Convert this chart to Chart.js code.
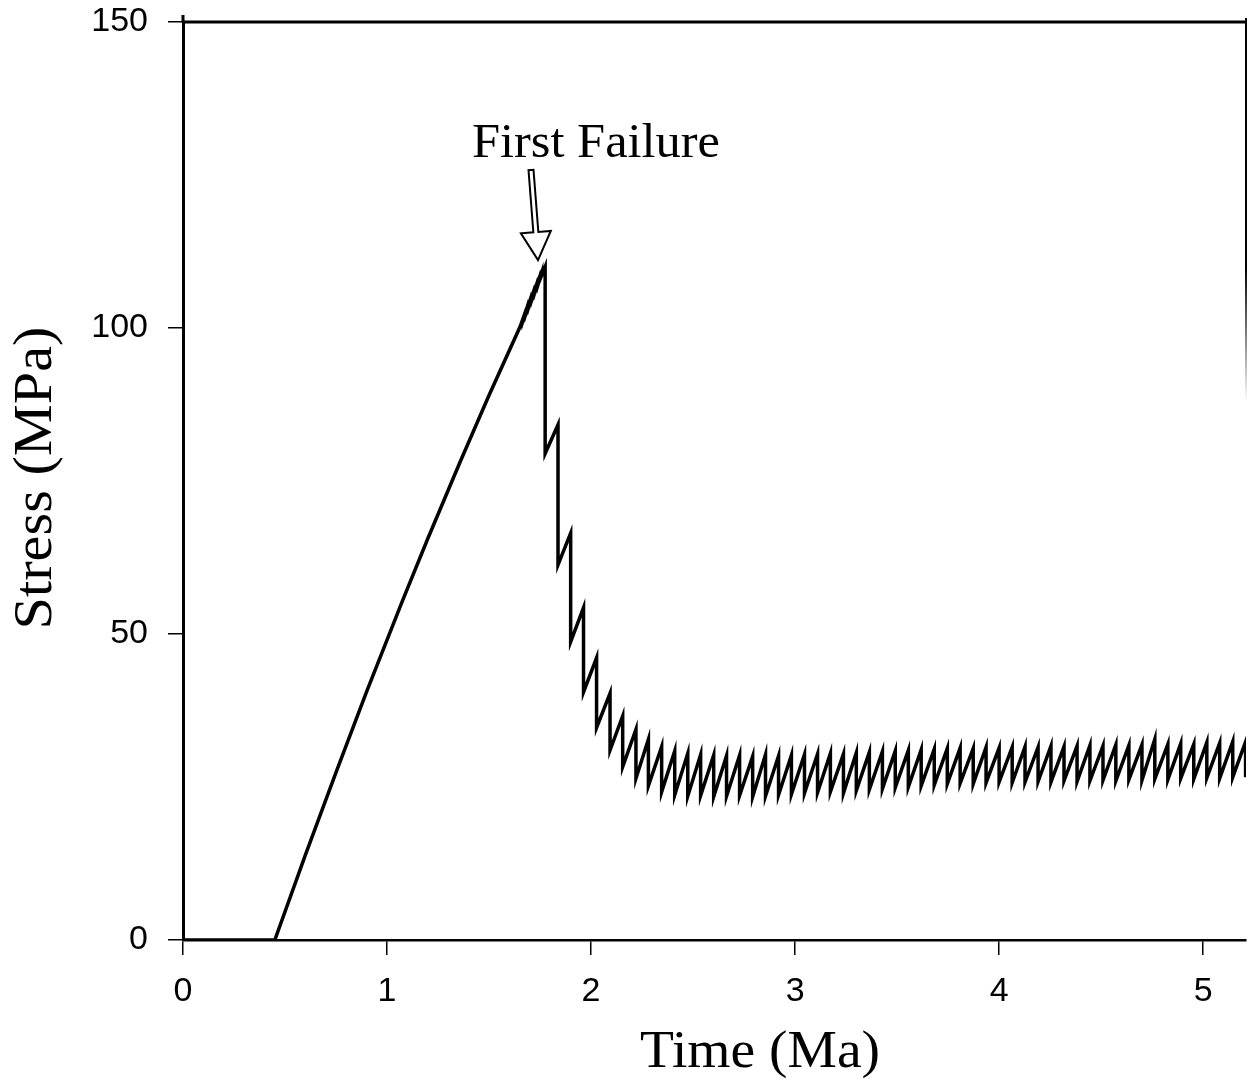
<!DOCTYPE html>
<html>
<head>
<meta charset="utf-8">
<title>Stress vs Time</title>
<script src="https://cdn.jsdelivr.net/npm/chart.js@4.4.1/dist/chart.umd.min.js"></script>
<style>
    html, body { margin: 0; padding: 0; background: #fff; }
    #wrap { width: 1248px; height: 1085px; }
</style>
</head>
<body>
<div id="wrap"><canvas id="stressChart" width="1248" height="1085"></canvas></div>
<script>
// loading ramp (Ma, MPa)
const rampTime = [0, 0.45, 0.60, 0.75, 0.90, 1.078, 1.20, 1.358, 1.50, 1.652];
const rampStress = [0, 0, 13.9, 27.4, 40.6, 55.6, 65.6, 78.1, 89.0, 100.2];

// small precursor slips just before first failure
const slipTime = [1.668, 1.683, 1.698, 1.713, 1.728, 1.743, 1.758];
const slipPeak = [101.7, 103.0, 104.2, 105.4, 106.6, 107.8, 109.0];
const slipDrop = [101.4, 102.6, 103.8, 105.0, 106.2, 107.4, 108.6];

// failure events: stress before and after each drop
const failTime = [
    1.775, 1.838, 1.900, 1.963, 2.027, 2.093, 2.155, 2.220, 2.281, 2.346,
    2.410, 2.474, 2.537, 2.601, 2.664, 2.728, 2.792, 2.855, 2.919, 2.982,
    3.046, 3.110, 3.173, 3.237, 3.300, 3.364, 3.428, 3.491, 3.555, 3.618,
    3.682, 3.746, 3.809, 3.873, 3.936, 4.000, 4.064, 4.127, 4.191, 4.254,
    4.318, 4.382, 4.445, 4.509, 4.572, 4.636, 4.700, 4.763, 4.827, 4.890,
    4.954, 5.018, 5.081, 5.145, 5.208
];
const failPeak = [
    110.0, 84.2, 66.5, 54.3, 46.1, 40.3, 36.6, 34.4, 32.8, 31.6,
    30.9, 30.5, 30.3, 30.2, 30.1, 30.2, 30.0, 30.3, 30.1, 30.2,
    30.3, 30.4, 30.5, 30.4, 30.6, 30.7, 30.8, 30.9, 31.0, 31.1,
    31.2, 31.3, 31.4, 31.3, 31.5, 31.4, 31.5, 31.6, 31.5, 31.7,
    31.6, 31.7, 31.8, 31.7, 31.9, 31.8, 31.9, 32.8, 32.0, 32.1,
    32.0, 32.3, 32.2, 32.4, 32.4
];
const failDrop = [
    79.5, 61.3, 48.7, 40.5, 34.7, 31.0, 28.3, 26.4, 25.2, 24.2,
    23.7, 23.5, 23.6, 23.4, 23.5, 23.6, 23.4, 23.5, 23.7, 23.8,
    24.0, 24.1, 24.2, 24.0, 24.4, 24.6, 24.7, 24.9, 25.0, 25.2,
    25.3, 25.5, 25.6, 25.5, 25.7, 25.8, 25.7, 25.8, 25.9, 25.8,
    26.0, 25.9, 26.0, 26.1, 26.0, 26.2, 26.1, 26.3, 26.2, 26.4,
    26.3, 26.5, 26.4, 26.6, 26.6
];

const timeTicks = [0, 1, 2, 3, 4, 5];
const stressTicks = [0, 50, 100, 150];

function buildSeries() {
    const pts = rampTime.map((t, i) => ({ x: t, y: rampStress[i] }));
    slipTime.forEach((t, i) => {
        pts.push({ x: t, y: slipPeak[i] }, { x: t, y: slipDrop[i] });
    });
    failTime.forEach((t, i) => {
        pts.push({ x: t, y: failPeak[i] }, { x: t, y: failDrop[i] });
    });
    return pts;
}

function drawFitted(ctx, text, cx, baseY, font, width) {
    ctx.font = font;
    ctx.textAlign = 'center';
    ctx.textBaseline = 'alphabetic';
    const w = ctx.measureText(text).width;
    ctx.save();
    ctx.translate(cx, baseY);
    ctx.scale(width / w, 1);
    ctx.fillText(text, 0, 0);
    ctx.restore();
}

function drawHollowArrow(ctx, fx, fy, tx, ty) {
    const dx = tx - fx, dy = ty - fy;
    const len = Math.hypot(dx, dy);
    const ux = dx / len, uy = dy / len;
    const px = -uy, py = ux;
    const head = 28, hw = 15, sw = 2.5;
    const bx = tx - ux * head, by = ty - uy * head;
    const pts = [
        [fx + px * sw, fy + py * sw],
        [bx + px * sw, by + py * sw],
        [bx + px * hw, by + py * hw],
        [tx, ty],
        [bx - px * hw, by - py * hw],
        [bx - px * sw, by - py * sw],
        [fx - px * sw, fy - py * sw]
    ];
    ctx.beginPath();
    pts.forEach(([x, y], i) => (i ? ctx.lineTo(x, y) : ctx.moveTo(x, y)));
    ctx.closePath();
    ctx.fillStyle = '#fff';
    ctx.fill();
    ctx.strokeStyle = '#000';
    ctx.lineWidth = 2;
    ctx.stroke();
}

const framePlugin = {
    id: 'frame',
    afterDraw(chart) {
        const { ctx, chartArea: a, scales } = chart;
        ctx.save();
        ctx.strokeStyle = '#000';
        ctx.lineWidth = 3;
        // top border + small stub of the y axis above it
        ctx.beginPath();
        ctx.moveTo(a.left, a.top);
        ctx.lineTo(a.right, a.top);
        ctx.moveTo(a.left, a.top - 7);
        ctx.lineTo(a.left, a.top + 1);
        ctx.stroke();

        // right border, fading out downwards
        const g = ctx.createLinearGradient(0, a.top - 4, 0, a.top + 380);
        g.addColorStop(0, '#000');
        g.addColorStop(0.65, '#000');
        g.addColorStop(1, 'rgba(0,0,0,0)');
        ctx.strokeStyle = g;
        ctx.lineWidth = 2;
        ctx.beginPath();
        ctx.moveTo(a.right, a.top - 4);
        ctx.lineTo(a.right, a.top + 380);
        ctx.stroke();

        // "First Failure" arrow
        const tipX = scales.x.getPixelForValue(1.74);
        const tipY = scales.y.getPixelForValue(111.1);
        drawHollowArrow(ctx, tipX - 7, tipY - 90, tipX, tipY);

        ctx.fillStyle = '#000';
        drawFitted(ctx, 'First Failure', 596, 157, '48px "Liberation Serif", "Times New Roman", serif', 248);
        drawFitted(ctx, 'Time (Ma)', 760, 1067, '52px "Liberation Serif", "Times New Roman", serif', 240);

        ctx.save();
        ctx.translate(51, 478);
        ctx.rotate(-Math.PI / 2);
        drawFitted(ctx, 'Stress (MPa)', 0, 0, '54px "Liberation Serif", "Times New Roman", serif', 303);
        ctx.restore();

        ctx.restore();
    }
};

const tickFont = { family: '"Liberation Sans", Arial, sans-serif', size: 34, lineHeight: 1 };

const ctx = document.getElementById('stressChart').getContext('2d');
const stressChart = new Chart(ctx, {
    type: 'line',
    data: {
        datasets: [{
            data: buildSeries(),
            borderColor: '#000',
            borderWidth: 3.5,
            pointRadius: 0,
            tension: 0,
            fill: false
        }]
    },
    options: {
        responsive: false,
        animation: false,
        devicePixelRatio: 1,
        layout: { padding: { top: 22, right: 2, left: 0, bottom: 0 } },
        plugins: {
            legend: { display: false },
            tooltip: { enabled: false }
        },
        scales: {
            x: {
                type: 'linear',
                min: 0,
                max: 5.21,
                afterBuildTicks: scale => { scale.ticks = timeTicks.map(v => ({ value: v })); },
                afterFit: scale => {
                    scale.height = 145;
                    scale.paddingLeft = 0;
                    scale.paddingRight = 0;
                },
                ticks: { color: '#000', font: tickFont, padding: 20, maxRotation: 0 },
                grid: { drawOnChartArea: false, drawTicks: true, tickLength: 15, color: '#000', lineWidth: 1.5 },
                border: { display: true, color: '#000', width: 2.5 }
            },
            y: {
                type: 'linear',
                min: 0,
                max: 150,
                afterBuildTicks: scale => { scale.ticks = stressTicks.map(v => ({ value: v })); },
                afterFit: scale => {
                    scale.width = 183;
                    scale.paddingTop = 0;
                    scale.paddingBottom = 0;
                },
                ticks: { color: '#000', font: tickFont, padding: 20 },
                grid: { drawOnChartArea: false, drawTicks: true, tickLength: 15, color: '#000', lineWidth: 1.5 },
                border: { display: true, color: '#000', width: 3 }
            }
        }
    },
    plugins: [framePlugin]
});
</script>
</body>
</html>
